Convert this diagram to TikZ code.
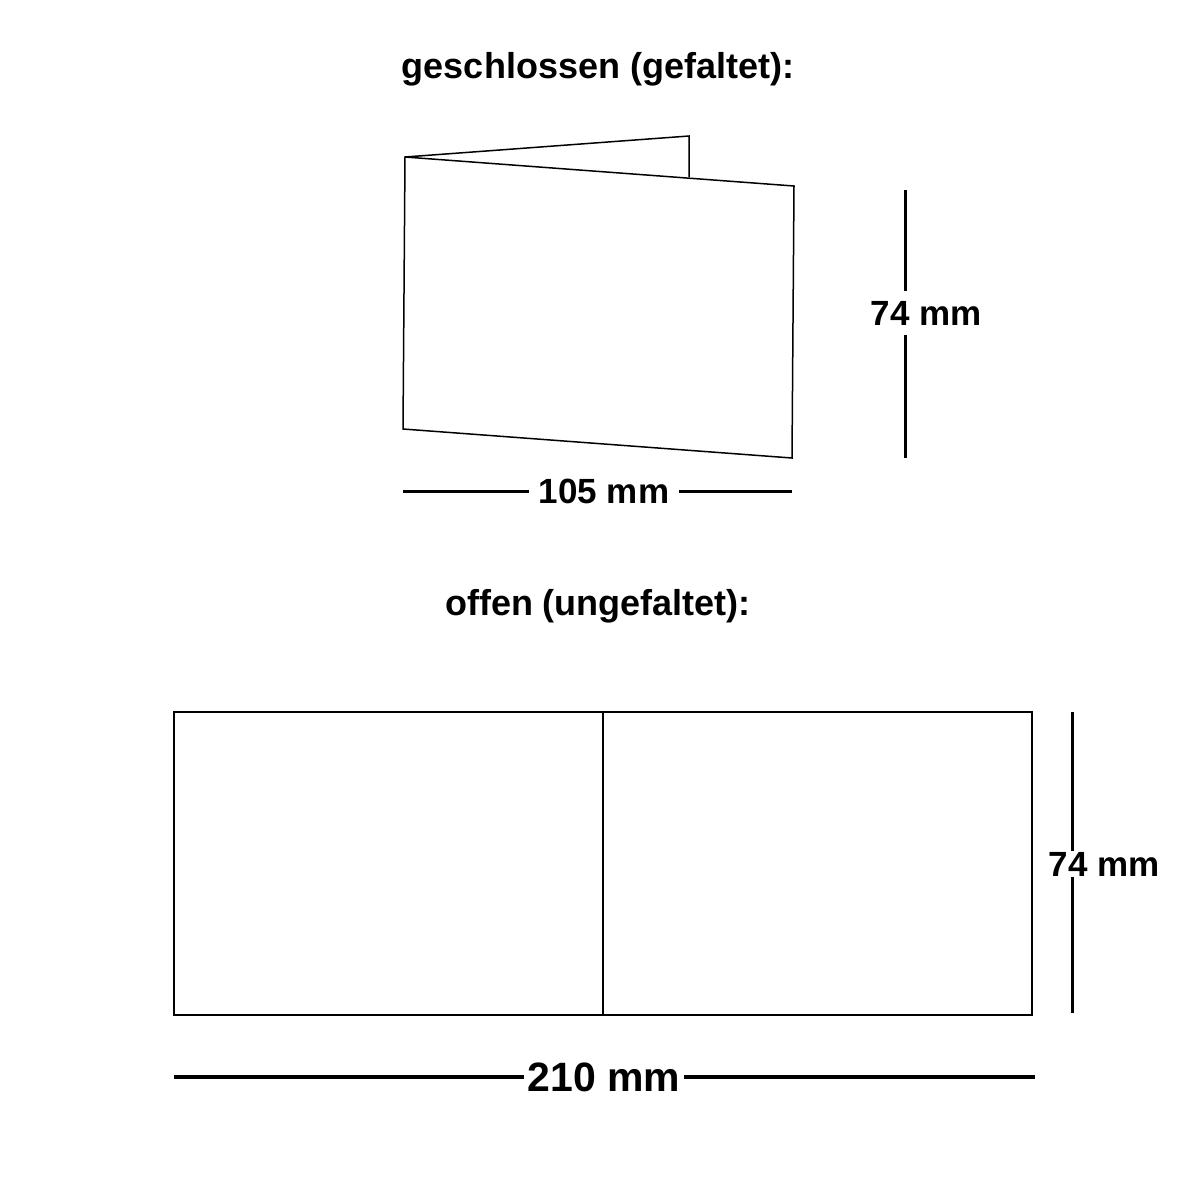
\documentclass[tikz,border=0pt]{standalone}
\usepackage{fontspec}
\setmainfont{Liberation Sans}
\begin{document}
\begin{tikzpicture}[x=0.5pt,y=-0.5pt,
  card/.style={draw=black,line width=0.75pt,line join=miter},
  dimline/.style={draw=black,line width=1.5pt},
  bigdim/.style={draw=black,line width=2pt},
  lbl/.style={font=\bfseries\fontsize{18}{21}\selectfont,inner sep=0pt},
  dimlbl/.style={font=\bfseries\fontsize{17.5}{21}\selectfont,fill=white,inner xsep=4.5pt,inner ysep=1pt},
  biglbl/.style={font=\bfseries\fontsize{20.5}{24}\selectfont,fill=white,inner xsep=1.5pt,inner ysep=1pt}]
\useasboundingbox (0,0) rectangle (1200,1200);
% titles
\node[lbl] (t1) at (598,69) {geschlossen (gefaltet):};
\node[lbl] (t2) at (598,606) {offen (ungefaltet):};
% folded card
\coordinate (ftl) at (405,157);
\coordinate (ftr) at (794,186);
\coordinate (fbr) at (792,458);
\coordinate (fbl) at (403,429);
\coordinate (btr) at (689,136);
\coordinate (bbr) at (689,177);
\draw[card] (ftl) -- (btr) -- (bbr);
\draw[card] (ftl) -- (ftr) -- (fbr) -- (fbl) -- cycle;
% 105 mm
\coordinate (w1a) at (403,491);
\coordinate (w1b) at (792,491);
\node[dimlbl] (w1) at (604,491) {105 mm};
\draw[dimline] (w1a) -- (w1.west);
\draw[dimline] (w1.east) -- (w1b);
% 74 mm top
\coordinate (h1a) at (905,190);
\coordinate (h1b) at (905,458);
\draw[dimline] (h1a) -- (h1b);
\node[dimlbl,inner xsep=1pt,inner ysep=5pt] (h1) at (926,313) {74 mm};
% open card
\coordinate (otl) at (174,712);
\coordinate (obr) at (1032,1015);
\coordinate (omt) at (603,712);
\coordinate (omb) at (603,1015);
\draw[card] (otl) rectangle (obr);
\draw[card] (omt) -- (omb);
% 74 mm bottom
\coordinate (h2a) at (1072,712);
\coordinate (h2b) at (1072,1013);
\draw[dimline] (h2a) -- (h2b);
\node[dimlbl,inner xsep=0pt,inner ysep=0.5pt] (h2) at (1104,864) {74 mm};
% 210 mm
\coordinate (w2a) at (174,1077);
\coordinate (w2b) at (1035,1077);
\node[biglbl] (w2) at (604,1077) {210 mm};
\draw[bigdim] (w2a) -- (w2.west);
\draw[bigdim] (w2.east) -- (w2b);
\end{tikzpicture}
\end{document}
